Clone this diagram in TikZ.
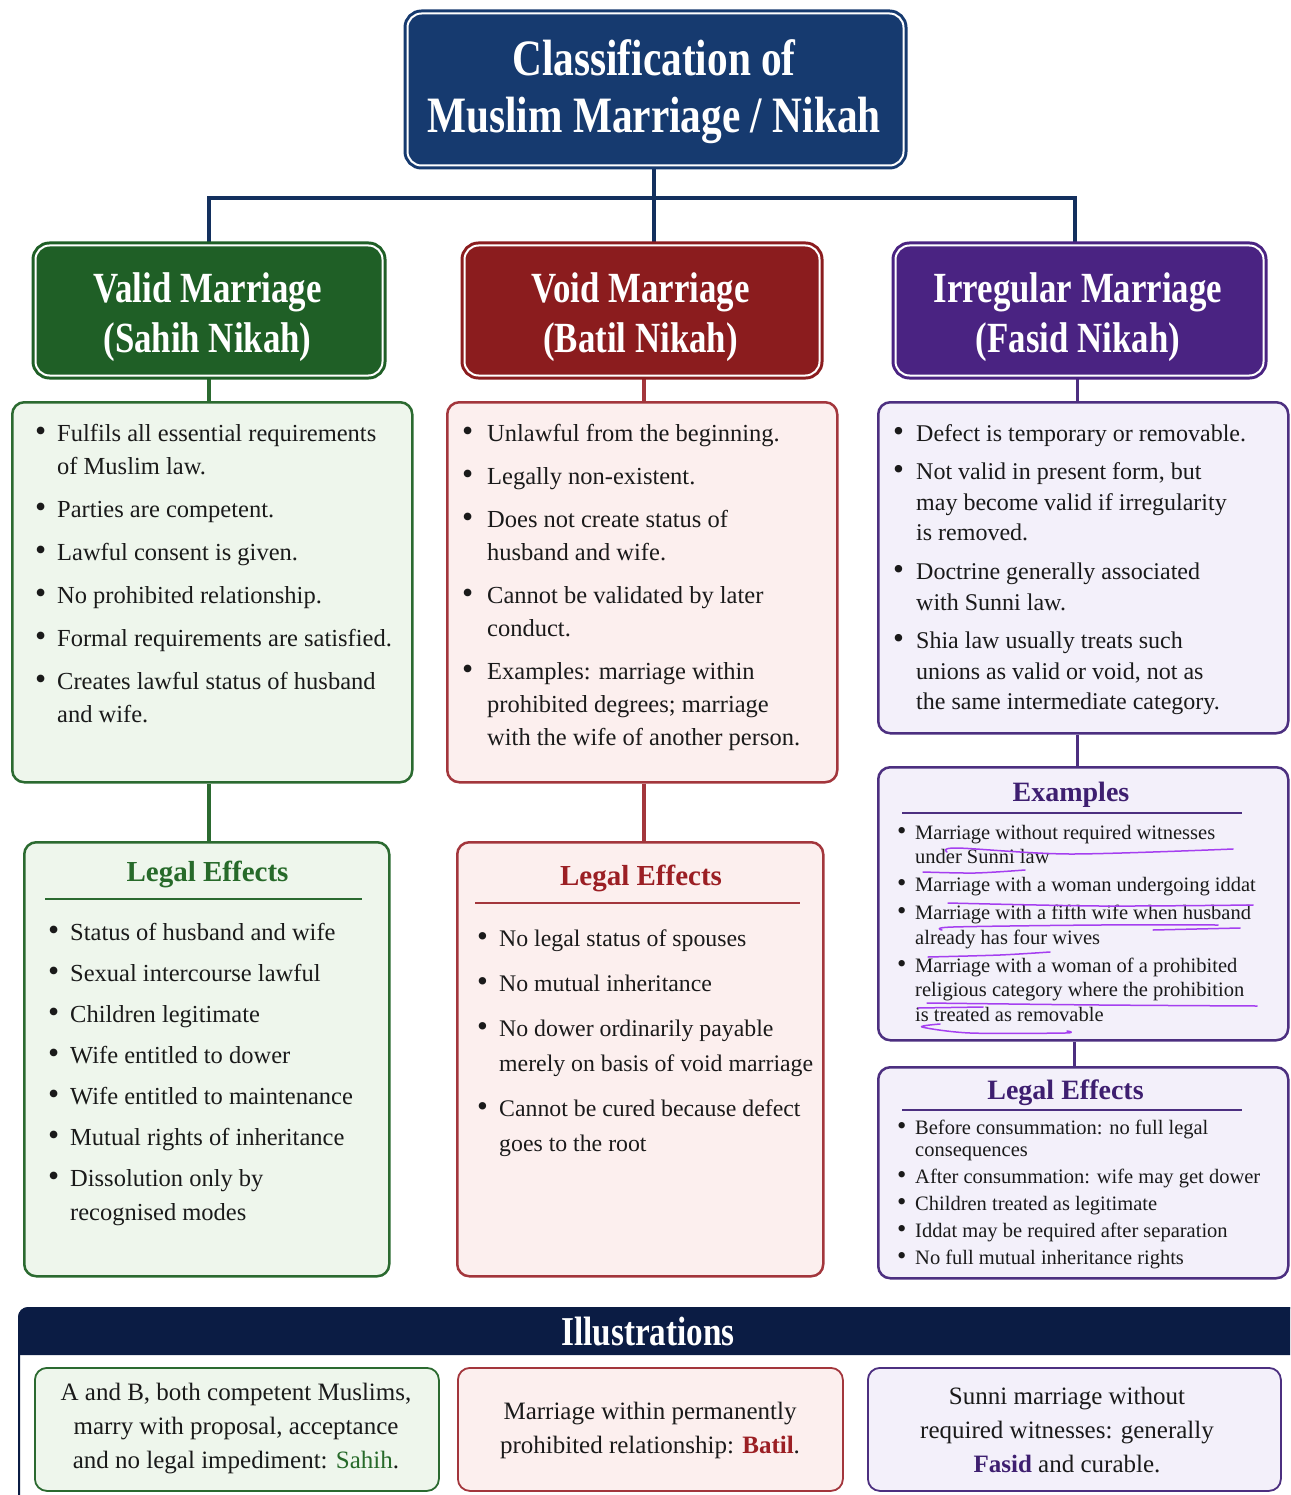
\documentclass[tikz,border=0pt]{standalone}
\usepackage{fontspec}
\setmainfont{Liberation Serif}
\newfontfamily\headfont[FakeStretch=0.81]{Liberation Serif}
\usetikzlibrary{calc,backgrounds}
\definecolor{navy}{HTML}{163A6F}
\definecolor{navyline}{HTML}{13305E}
\definecolor{barcol}{HTML}{0B1C44}
\definecolor{greenh}{HTML}{1F5F26}
\definecolor{greenb}{HTML}{2B6A30}
\definecolor{greenf}{HTML}{EEF6EC}
\definecolor{greent}{HTML}{276A2A}
\definecolor{redh}{HTML}{8B1C1E}
\definecolor{redb}{HTML}{A3363C}
\definecolor{redf}{HTML}{FCEFEE}
\definecolor{redt}{HTML}{9B1F24}
\definecolor{purh}{HTML}{4A2382}
\definecolor{purb}{HTML}{4C2F80}
\definecolor{purf}{HTML}{F3F0FA}
\definecolor{purt}{HTML}{3E1F70}
\definecolor{annotc}{HTML}{A53FF0}
\definecolor{ink}{HTML}{1A1A1A}
\newlength\bulind
\newcommand\nl{\newline}
\newcommand\bul[1]{\par\hangindent=\bulind\hangafter=1\noindent\makebox[\bulind][l]{\scalebox{1.3}{\textbullet}}#1\par}
\newcommand\blist[6]{\begin{minipage}[t]{#1}\setlength\bulind{#2}\fontsize{#3}{#4}\selectfont\setlength\parskip{#5}\raggedright #6\end{minipage}}
\newcommand\pbox[6]{\node[#6, anchor=north west, minimum width=#4-#2, minimum height=#5-#3] (#1) at (#2,#3) {};}
\begin{document}
\begin{tikzpicture}[x=1pt,y=-1pt,
  conn/.style={line width=4pt, draw=#1},
  hdr/.style={draw=#1, fill=#1, line width=3pt, double=white, double distance=2pt, rounded corners=14pt, inner sep=0},
  panel/.style 2 args={draw=#1, fill=#2, line width=2.5pt, rounded corners=12pt, inner sep=0},
  ipanel/.style 2 args={draw=#1, fill=#2, line width=1.8pt, rounded corners=12pt, inner sep=0},
  htext/.style={text=white, font=\headfont\bfseries\fontsize{43}{50}\selectfont, align=center, inner sep=0},
  subhead/.style={text=#1, font=\bfseries\fontsize{29}{34}\selectfont, inner sep=0, anchor=base},
  rulel/.style={draw=#1, line width=2pt},
  blk/.style={inner sep=0, anchor=base west, text=ink},
  illtext/.style={font=\fontsize{25}{34}\selectfont, align=center, inner sep=0, text=ink},
  annot/.style={draw=annotc, line width=1.5pt, line cap=round, line join=round}
]
\useasboundingbox (0,0) rectangle (1290,1495);
\clip (0,0) rectangle (1290,1495);

% header boxes
\pbox{title}{406}{12}{902}{164}{hdr=navy}
\pbox{validh}{34}{244}{381}{374}{hdr=greenh}
\pbox{voidh}{463}{244}{818}{374}{hdr=redh}
\pbox{irrh}{894}{244}{1262}{374}{hdr=purh}

\node[text=white, font=\headfont\bfseries\fontsize{51}{57}\selectfont, align=center, inner sep=0] (titlet) at (654,91.5) {Classification of\\Muslim Marriage / Nikah};
\node[htext] (validht) at (207.5,317) {Valid Marriage\\(Sahih Nikah)};
\node[htext] (voidht) at (640.5,317) {Void Marriage\\(Batil Nikah)};
\node[htext] (irrht) at (1078,317) {Irregular Marriage\\(Fasid Nikah)};

% panels
\pbox{validb}{11}{401}{411}{781}{panel={greenb}{greenf}}
\pbox{voidb}{446}{401}{836}{781}{panel={redb}{redf}}
\pbox{irrb}{877}{401}{1287}{732}{panel={purb}{purf}}
\pbox{validle}{23}{841}{388}{1275}{panel={greenb}{greenf}}
\pbox{voidle}{456}{841}{822}{1275}{panel={redb}{redf}}
\pbox{irrex}{877}{766}{1287}{1039}{panel={purb}{purf}}
\pbox{irrle}{877}{1066}{1287}{1277}{panel={purb}{purf}}

% connectors
\begin{pgfonlayer}{background}
\fill[white] (0,0) rectangle (1290,1495);
\coordinate (jt) at (654,198);
\draw[conn=navyline] (jt |- title.south) -- (jt);
\draw[conn=navyline] (jt) -| ([xshift=-0.5pt]validh.north);
\draw[conn=navyline] (jt) -- (jt |- voidh.north);
\draw[conn=navyline] (jt) -| ([xshift=-5pt]irrh.north);
\draw[conn=greenb, line width=3.5pt] (validh.south) -- (validh.south |- validb.north);
\draw[conn=redb, line width=3.5pt] ([xshift=2pt]voidh.south) -- ([xshift=2pt]voidh.south |- voidb.north);
\draw[conn=purb, line width=3.5pt] ([xshift=-2pt]irrh.south) -- ([xshift=-2pt]irrh.south |- irrb.north);
\draw[conn=greenb, line width=3.5pt] (validh.south |- validb.south) -- (validh.south |- validle.north);
\draw[conn=redb, line width=3.5pt] ([xshift=2pt]voidh.south |- voidb.south) -- ([xshift=2pt]voidh.south |- voidle.north);
\draw[conn=purb, line width=3.5pt] ([xshift=-2pt]irrh.south |- irrb.south) -- ([xshift=-2pt]irrh.south |- irrex.north);
\draw[conn=purb, line width=3.5pt] ([xshift=-5pt]irrh.south |- irrex.south) -- ([xshift=-5pt]irrh.south |- irrle.north);
\end{pgfonlayer}

% body texts
\node[blk] (validbt) at (35,441) {\blist{370pt}{22pt}{24.5}{33}{10pt}{%
\bul{Fulfils all essential requirements\nl of Muslim law.}
\bul{Parties are competent.}
\bul{Lawful consent is given.}
\bul{No prohibited relationship.}
\bul{Formal requirements are satisfied.}
\bul{Creates lawful status of husband\nl and wife.}}};

\node[blk] (voidbt) at (462,441) {\blist{370pt}{25pt}{24.5}{33}{10pt}{%
\bul{Unlawful from the beginning.}
\bul{Legally non-existent.}
\bul{Does not create status of\nl husband and wife.}
\bul{Cannot be validated by later\nl conduct.}
\bul{Examples: marriage within\nl prohibited degrees; marriage\nl with the wife of another person.}}};

\node[blk] (irrbt) at (893,441) {\blist{385pt}{23pt}{24}{30.6}{8pt}{%
\bul{Defect is temporary or removable.}
\bul{Not valid in present form, but\nl may become valid if irregularity\nl is removed.}
\bul{Doctrine generally associated\nl with Sunni law.}
\bul{Shia law usually treats such\nl unions as valid or void, not as\nl the same intermediate category.}}};

% legal effects - valid
\node[subhead=greent] (validlet) at (207.5,881.5) {Legal Effects};
\draw[rulel=greenb] (45,899) -- (362,899);
\node[blk] (validlebt) at (48,940) {\blist{340pt}{22pt}{24.5}{34}{7pt}{%
\bul{Status of husband and wife}
\bul{Sexual intercourse lawful}
\bul{Children legitimate}
\bul{Wife entitled to dower}
\bul{Wife entitled to maintenance}
\bul{Mutual rights of inheritance}
\bul{Dissolution only by\nl recognised modes}}};

% legal effects - void
\node[subhead=redt] (voidlet) at (641,885.5) {Legal Effects};
\draw[rulel=redb] (475,903) -- (800,903);
\node[blk] (voidlebt) at (477,946) {\blist{345pt}{22pt}{23.8}{35}{10pt}{%
\bul{No legal status of spouses}
\bul{No mutual inheritance}
\bul{No dower ordinarily payable\nl merely on basis of void marriage}
\bul{Cannot be cured because defect\nl goes to the root}}};

% examples
\node[subhead=purt, font=\bfseries\fontsize{28}{34}\selectfont] (irrext) at (1071,801.5) {Examples};
\draw[rulel=purb] (902,813) -- (1242,813);
\node[blk] (irrexbt) at (897,839) {\blist{385pt}{18pt}{20.5}{24.3}{4pt}{%
\bul{Marriage without required witnesses\nl under Sunni law}
\bul{Marriage with a woman undergoing iddat}
\bul{Marriage with a fifth wife when husband\nl already has four wives}
\bul{Marriage with a woman of a prohibited\nl religious category where the prohibition\nl is treated as removable}}};

% irregular legal effects
\node[subhead=purt, font=\bfseries\fontsize{28}{34}\selectfont] (irrlet) at (1065.5,1099.5) {Legal Effects};
\draw[rulel=purb] (902,1110) -- (1242,1110);
\node[blk] (irrlebt) at (897,1134) {\blist{385pt}{18pt}{20.5}{22}{5pt}{%
\bul{Before consummation: no full legal\nl consequences}
\bul{After consummation: wife may get dower}
\bul{Children treated as legitimate}
\bul{Iddat may be required after separation}
\bul{No full mutual inheritance rights}}};

% annotations
\draw[annot] plot[smooth] coordinates {(947,852) (957,848) (1070,854) (1233,849)};
\draw[annot] plot[smooth] coordinates {(923,872) (975,873) (1025,870)};
\draw[annot] plot[smooth] coordinates {(948,903) (1100,906) (1253,905)};
\draw[annot] plot[smooth] coordinates {(942,930) (953,927) (1100,925) (1218,925)};
\draw[annot] (1153,930) -- (1240,928);
\draw[annot] plot[smooth] coordinates {(928,957) (1000,955) (1050,952)};
\draw[annot] plot[smooth] coordinates {(927,1003) (1100,1005) (1257,1006)};
\draw[annot] (918,1008) -- (983,1007);
\draw[annot] plot[smooth] coordinates {(940,1024) (922,1027) (970,1033) (1065,1033) (1067,1031)};

% illustrations
\pbox{illf}{18}{1307}{1310}{1530}{draw=barcol, line width=2pt, fill=white, rounded corners=10pt}
\fill[barcol] (18,1355) [rounded corners=10pt] -- (18,1307) -- (1310,1307) [sharp corners] -- (1310,1355) -- cycle;
\node[text=white, font=\headfont\bfseries\fontsize{41}{46}\selectfont, inner sep=0, anchor=base] (illt) at (648,1345.5) {Illustrations};
\pbox{illg}{34}{1367}{438}{1490}{ipanel={greenb}{greenf}}
\pbox{illr}{457}{1367}{842}{1490}{ipanel={redb}{redf}}
\pbox{illp}{867}{1367}{1280}{1490}{ipanel={purb}{purf}}
\node[illtext] (illgt) at (236,1429) {A and B, both competent Muslims,\\marry with proposal, acceptance\\and no legal impediment: \textcolor{greent}{Sahih}.};
\node[illtext] (illrt) at (650,1430) {Marriage within permanently\\prohibited relationship: \textcolor{redt}{\textbf{Batil}}.};
\node[illtext] (illpt) at (1067,1430) {Sunni marriage without\\required witnesses: generally\\\textcolor{purt}{\textbf{Fasid}} and curable.};
\end{tikzpicture}
\end{document}
